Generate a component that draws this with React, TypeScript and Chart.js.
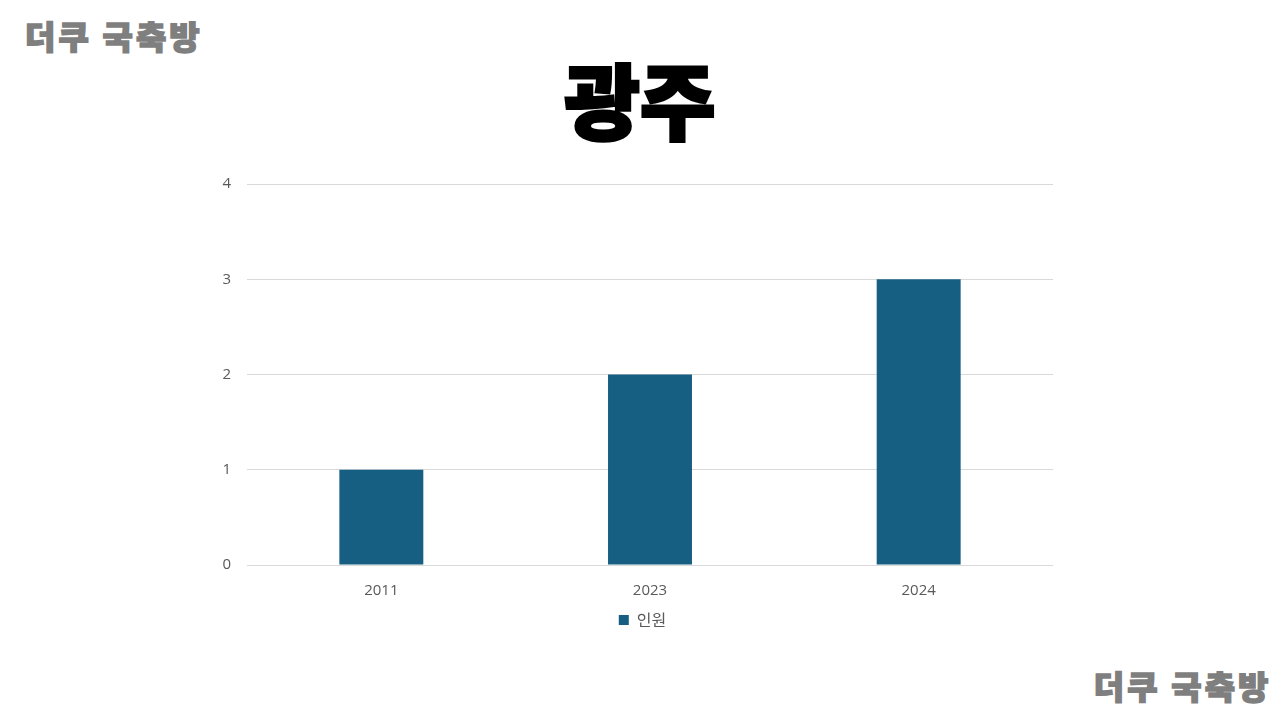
import React, { useEffect, useRef } from "react";
import { Chart, registerables } from "chart.js";

Chart.register(...registerables);

const categories = ["2011", "2023", "2024"];
const seriesName = "인원";
const values = [1, 2, 3];
const yTicks = [0, 1, 2, 3, 4];
const titleText = "광주";
const watermarkText = "더쿠 국축방";

const BAR_COLOR = "#175F82";
const TEXT_COLOR = "#595959";
const GRID_COLOR = "#D9D9D9";
const FONT = "'Noto Sans CJK KR', 'Noto Sans', sans-serif";
const TICK_FONT = "'Open Sans', 'Noto Sans CJK KR', sans-serif";

const legendShift = {
  id: "legendShift",
  afterLayout(chart: any) {
    if (chart.legend) {
      chart.legend.left += 32;
    }
  },
};

export default function App() {
  const canvasRef = useRef<HTMLCanvasElement | null>(null);

  useEffect(() => {
    document.body.style.margin = "0";
    const ctx = canvasRef.current;
    if (!ctx) return;
    const chart = new Chart(ctx, {
      type: "bar",
      data: {
        labels: categories,
        datasets: [
          {
            label: seriesName,
            data: values,
            backgroundColor: BAR_COLOR,
            barPercentage: 0.625,
            categoryPercentage: 0.5,
          },
        ],
      },
      plugins: [legendShift],
      options: {
        animation: false,
        responsive: false,
        maintainAspectRatio: false,
        layout: { padding: { top: 4, right: 47, bottom: 0, left: 0 } },
        plugins: {
          title: { display: false },
          tooltip: { enabled: false },
          legend: {
            position: "bottom",
            labels: {
              boxWidth: 10,
              boxHeight: 10,
              color: TEXT_COLOR,
              font: { family: FONT, size: 16 },
              padding: 9,
            },
          },
        },
        scales: {
          x: {
            grid: { display: false },
            border: { display: false },
            ticks: {
              color: TEXT_COLOR,
              font: { family: TICK_FONT, size: 15 },
              padding: 9,
            },
            afterFit: (scale: any) => {
              scale.height = 38;
            },
          },
          y: {
            min: 0,
            max: 4,
            afterBuildTicks: (scale: any) => {
              scale.ticks = yTicks.map((v) => ({ value: v }));
            },
            grid: { color: GRID_COLOR, drawTicks: false, lineWidth: 1 },
            border: { display: false },
            ticks: {
              color: TEXT_COLOR,
              font: { family: TICK_FONT, size: 15 },
              padding: 16,
            },
            afterFit: (scale: any) => {
              scale.width = 47;
            },
          },
        },
      },
    });
    return () => chart.destroy();
  }, []);

  const wm: React.CSSProperties = {
    position: "absolute",
    fontFamily: FONT,
    fontWeight: 900,
    fontSize: 32,
    color: "#7F7F7F",
    lineHeight: 1,
    whiteSpace: "nowrap",
    letterSpacing: 3,
    WebkitTextStroke: "1.5px #7F7F7F",
  };

  return (
    <div
      style={{
        position: "fixed",
        left: 0,
        top: 0,
        width: 1280,
        height: 720,
        background: "#FFFFFF",
        overflow: "hidden",
      }}
    >
      <div style={{ ...wm, left: 25, top: 19, transform: "scaleX(1.03)", transformOrigin: "left center" }}>
        {watermarkText}
      </div>
      <div style={{ ...wm, right: 8, top: 669, transform: "scaleX(1.03)", transformOrigin: "right center" }}>
        {watermarkText}
      </div>
      <div
        style={{
          position: "absolute",
          left: 0,
          width: 1280,
          top: 57,
          textAlign: "center",
          fontFamily: FONT,
          fontWeight: 900,
          fontSize: 82,
          lineHeight: 1,
          color: "#000000",
          WebkitTextStroke: "3px #000000",
        }}
      >
        {titleText}
      </div>
      <canvas
        ref={canvasRef}
        width={900}
        height={479}
        style={{ position: "absolute", left: 200, top: 159, width: 900, height: 479 }}
      />
    </div>
  );
}
